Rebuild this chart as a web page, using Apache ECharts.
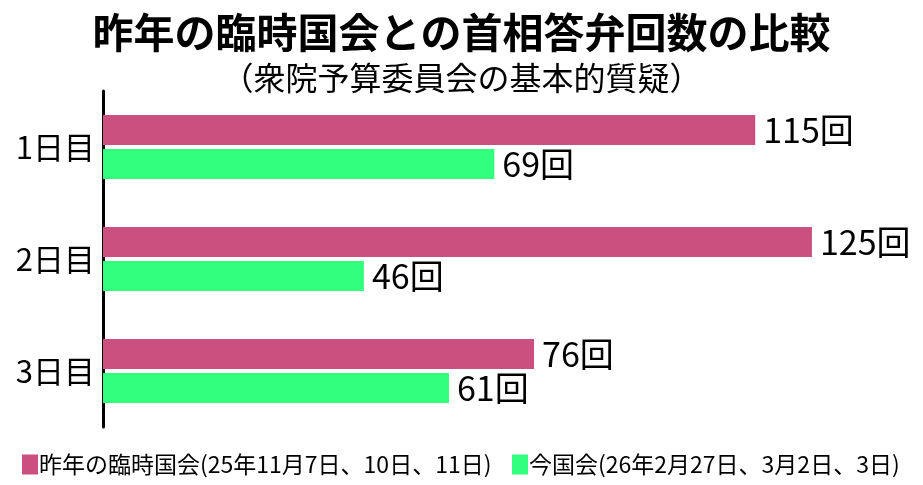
<!DOCTYPE html>
<html><head><meta charset="utf-8">
<script src="https://cdn.jsdelivr.net/npm/echarts@6/dist/echarts.min.js"></script>
<style>html,body{margin:0;padding:0;background:#fff}#c{width:923px;height:485px}</style>
</head><body><div id="c"></div>
<script>
const categories = ['1日目', '2日目', '3日目'];
const lastYear = [115, 125, 76];
const thisYear = [69, 46, 61];
const seriesNames = ['昨年の臨時国会(25年11月7日、10日、11日)', '今国会(26年2月27日、3月2日、3日)'];
const titleText = '昨年の臨時国会との首相答弁回数の比較';
const subtitleText = '（衆院予算委員会の基本的質疑）';

const FONT = '"Noto Sans CJK JP", sans-serif';
const chart = echarts.init(document.getElementById('c'), null, {renderer: 'canvas'});
const labelCfg = {
  show: true, position: 'right', distance: 8, formatter: '{c}回',
  color: '#000', fontSize: 34, fontFamily: FONT
};
const legendBase = {
  top: 448, icon: 'rect', itemWidth: 16, itemHeight: 20, itemGap: 0,
  textStyle: {fontSize: 23, color: '#000', fontFamily: FONT, padding: [0, 0, 0, -4]}
};
chart.setOption({
  animation: false,
  backgroundColor: '#fff',
  title: [
    {text: titleText, left: 'center', top: 7,
     textStyle: {fontSize: 41, fontWeight: 'bold', color: '#000', fontFamily: FONT}},
    {text: subtitleText, left: 'center', top: 57,
     textStyle: {fontSize: 32, fontWeight: 'normal', color: '#000', fontFamily: FONT}}
  ],
  legend: [
    Object.assign({}, legendBase, {left: 17, data: [seriesNames[0]]}),
    Object.assign({}, legendBase, {left: 507, data: [seriesNames[1]]})
  ],
  grid: {left: 103, right: 26, top: 91, bottom: 58, containLabel: false},
  xAxis: {type: 'value', min: 0, max: 140, show: false},
  yAxis: {
    type: 'category', data: categories, inverse: true,
    axisLine: {show: true, lineStyle: {color: '#000', width: 3}},
    axisTick: {show: false},
    axisLabel: {color: '#000', fontSize: 31, fontFamily: FONT, margin: 8}
  },
  series: [
    {name: seriesNames[0], type: 'bar', data: lastYear, barWidth: 30, barGap: '13%',
     itemStyle: {color: '#CB4F7F'}, label: labelCfg},
    {name: seriesNames[1], type: 'bar', data: thisYear, barWidth: 30, barGap: '13%',
     itemStyle: {color: '#32FF7E'}, label: labelCfg}
  ]
});
</script></body></html>
